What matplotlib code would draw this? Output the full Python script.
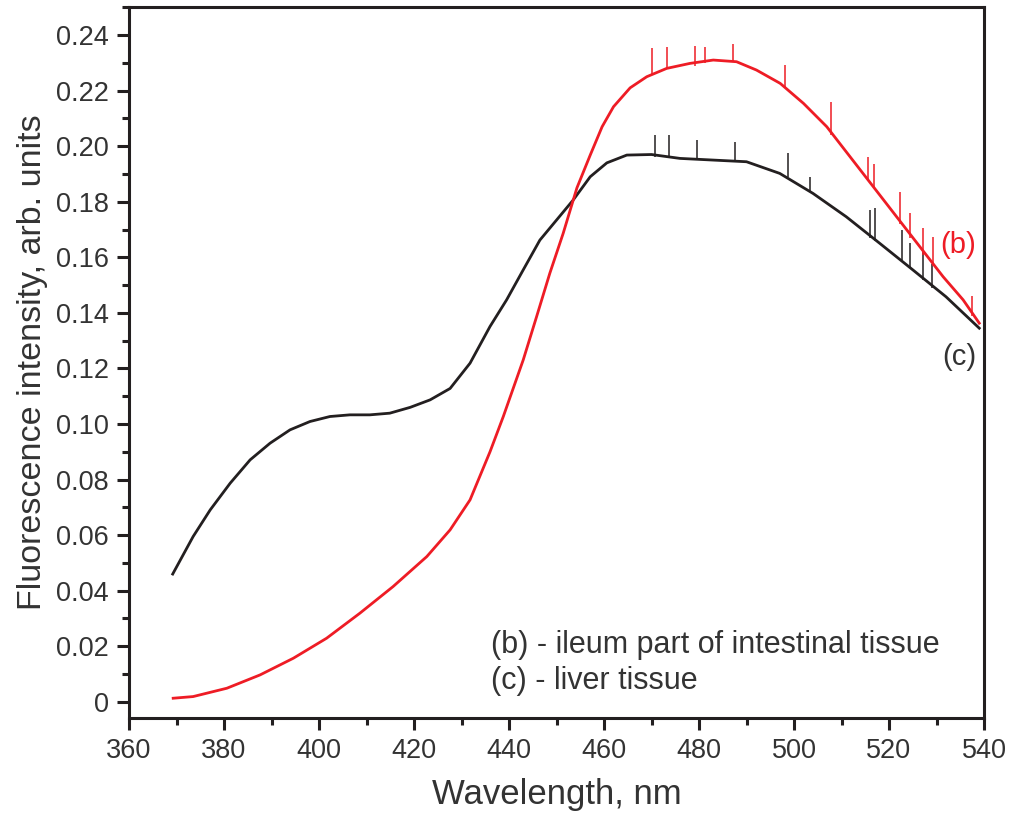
import matplotlib
matplotlib.use("Agg")
import matplotlib.pyplot as plt
from matplotlib.ticker import MultipleLocator

plt.rcParams['font.family'] = ['Liberation Sans', 'DejaVu Sans']

# (c) liver tissue - black
wl_c = [369.2, 373.5, 377.1, 381.3, 385.5, 389.7, 393.9, 398.1, 402.3, 406.5,
        410.7, 414.9, 419.2, 423.4, 427.6, 431.8, 436.0, 439.5, 443.0, 446.5,
        450.0, 453.5, 457.1, 460.6, 464.8, 470.0, 476.0, 483.0, 490.0, 497.0,
        504.0, 511.0, 518.0, 525.0, 532.0, 539.0]
int_c = [0.0460, 0.0595, 0.0691, 0.0787, 0.0871, 0.0931, 0.0979, 0.1009, 0.1027, 0.1033,
         0.1033, 0.1039, 0.1060, 0.1087, 0.1128, 0.1219, 0.1351, 0.1447, 0.1555, 0.1662,
         0.1734, 0.1806, 0.1890, 0.1940, 0.1968, 0.1970, 0.1956, 0.1950, 0.1944, 0.1902,
         0.1830, 0.1746, 0.1651, 0.1555, 0.1458, 0.1345]

# (b) ileum part of intestinal tissue - red
wl_b = [369.3, 373.5, 380.6, 387.6, 394.6, 401.6, 408.6, 415.6, 422.7, 427.6,
        431.8, 436.0, 438.8, 443.0, 445.8, 448.6, 451.4, 454.3, 457.1, 459.6,
        462.0, 465.5, 469.0, 473.2, 478.1, 483.0, 487.9, 492.1, 497.1, 502.0,
        506.9, 511.8, 516.7, 521.6, 526.5, 531.4, 535.6, 539.0]
int_b = [0.0013, 0.0019, 0.0049, 0.0097, 0.0157, 0.0229, 0.0319, 0.0415, 0.0523, 0.0619,
         0.0727, 0.0900, 0.1027, 0.1231, 0.1386, 0.1543, 0.1686, 0.1850, 0.1968, 0.2070,
         0.2142, 0.2210, 0.2250, 0.2280, 0.2298, 0.2310, 0.2304, 0.2274, 0.2226, 0.2154,
         0.2070, 0.1962, 0.1854, 0.1746, 0.1638, 0.1530, 0.1447, 0.1363]

# noise spikes (wavelength, base, top)
spike_b_wl = [470.2, 473.3, 479.2, 481.3, 487.2, 498.1, 507.7, 515.6, 516.8,
              522.4, 524.4, 527.2, 529.3, 537.4]
spike_b_lo = [0.226, 0.228, 0.229, 0.230, 0.2305, 0.221, 0.204, 0.188, 0.185,
              0.172, 0.167, 0.161, 0.157, 0.139]
spike_b_hi = [0.2352, 0.2358, 0.2360, 0.2356, 0.2368, 0.2292, 0.2160, 0.1960, 0.1936,
              0.1836, 0.1758, 0.1705, 0.1674, 0.1460]

spike_c_wl = [470.7, 473.7, 479.5, 487.6, 498.8, 503.4, 516.0, 517.1, 522.8,
              524.4, 527.2, 529.0]
spike_c_lo = [0.196, 0.196, 0.1955, 0.1945, 0.189, 0.184, 0.167, 0.166, 0.159,
              0.156, 0.152, 0.149]
spike_c_hi = [0.2040, 0.2040, 0.2022, 0.2016, 0.1974, 0.1890, 0.1770, 0.1776, 0.1700,
              0.1650, 0.1627, 0.1575]

x_ticks = [360, 380, 400, 420, 440, 460, 480, 500, 520, 540]
y_ticks = [0, 0.02, 0.04, 0.06, 0.08, 0.10, 0.12, 0.14, 0.16, 0.18, 0.20, 0.22, 0.24]
y_ticklabels = ["0", "0.02", "0.04", "0.06", "0.08", "0.10", "0.12", "0.14",
                "0.16", "0.18", "0.20", "0.22", "0.24"]

RED = "#ee1c25"
INK = "#231f20"
TXT = "#333333"

fig = plt.figure(figsize=(10.11, 8.13), dpi=100)
ax = fig.add_axes([0.1276, 0.1169, 0.8457, 0.8745])

ax.plot(wl_c, int_c, color=INK, lw=2.0)
ax.vlines(spike_c_wl, spike_c_lo, spike_c_hi, color=INK, lw=1.1)
ax.plot(wl_b, int_b, color=RED, lw=2.0)
ax.vlines(spike_b_wl, spike_b_lo, spike_b_hi, color=RED, lw=1.1)

ax.set_xlim(360, 540)
ax.set_ylim(-0.0058, 0.2501)
ax.set_xticks(x_ticks)
ax.set_yticks(y_ticks)
ax.set_yticklabels(y_ticklabels)
ax.xaxis.set_minor_locator(MultipleLocator(10))
ax.yaxis.set_minor_locator(MultipleLocator(0.01))

for s in ax.spines.values():
    s.set_linewidth(2.2)
    s.set_color(INK)
ax.tick_params(which='major', direction='out', length=8.5, width=2.2,
               labelsize=19.5, colors=INK, labelcolor=TXT, pad=6)
ax.tick_params(which='minor', direction='out', length=5, width=2.2, colors=INK)

ax.set_xlabel("Wavelength, nm", fontsize=25, color=TXT, labelpad=10)
ax.set_ylabel("Fluorescence intensity, arb. units", fontsize=24.5, color=TXT, labelpad=6)

ax.text(538.3, 0.1645, "(b)", color=RED, fontsize=21, ha='right', va='center')
ax.text(538.3, 0.1240, "(c)", color=TXT, fontsize=21, ha='right', va='center')
ax.text(0.423, 0.103, "(b) - ileum part of intestinal tissue", transform=ax.transAxes,
        fontsize=22, color=TXT, ha='left', va='center')
ax.text(0.423, 0.052, "(c) - liver tissue", transform=ax.transAxes,
        fontsize=22, color=TXT, ha='left', va='center')

fig.savefig("out.png", dpi=100)
